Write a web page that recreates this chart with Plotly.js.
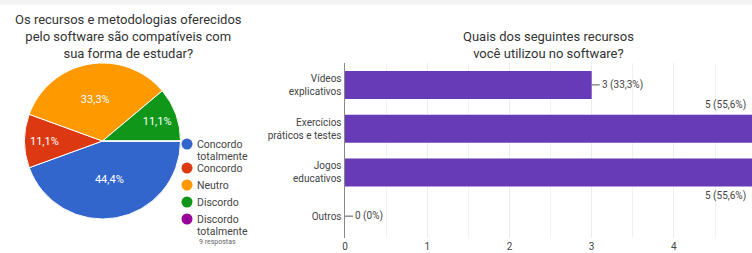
<!DOCTYPE html>
<html>
<head>
<meta charset="utf-8">
<script src="https://cdn.plot.ly/plotly-3.0.1.min.js"></script>
<style>html,body{margin:0;padding:0;background:#fff;}#chart{width:752px;height:253px;}</style>
</head>
<body>
<div id="chart"></div>
<script>
// ---- Pie data ----
const pieLabels = ["Concordo totalmente", "Concordo", "Neutro", "Discordo", "Discordo totalmente"];
const pieLegendLines = [["Concordo", "totalmente"], ["Concordo"], ["Neutro"], ["Discordo"], ["Discordo", "totalmente"]];
const pieValues = [4, 1, 3, 1, 0];
const pieColors = ["#3366cc", "#dc3912", "#ff9900", "#109618", "#990099"];
const responsesNote = "9 respostas";

// ---- Bar data ----
const barCategories = ["Vídeos<br>explicativos", "Exercícios<br>práticos e testes", "Jogos<br>educativos", "Outros"];
const barValues = [3, 5, 5, 0];
const barLabels = ["3 (33,3%)", "5 (55,6%)", "5 (55,6%)", "0 (0%)"];
const xTickVals = [0, 1, 2, 3, 4];

const fontFam = "Roboto, Arial, sans-serif";
const W = 752, H = 253;
const px = v => v / W;
const py = v => 1 - v / H;

// legend layout (row positions in pixel rows of the hidden legend axis)
const legendRows = [];
const legendLineStep = 12;
{
  let y = 144;
  pieLegendLines.forEach(lines => {
    legendRows.push(y);
    y += lines.length > 1 ? 24 : 17;
  });
}

const traces = [];
traces.push({
  type: "pie",
  labels: pieLabels,
  values: pieValues,
  marker: {colors: pieColors, line: {color: "#ffffff", width: 1}},
  sort: false,
  direction: "clockwise",
  rotation: 90,
  texttemplate: "%{percent:.1%}",
  textposition: "inside",
  insidetextorientation: "horizontal",
  textfont: {family: fontFam, size: 11, color: "#ffffff"},
  domain: {x: [px(24.5), px(180.5)], y: [py(219), py(63)]},
  showlegend: false,
  hoverinfo: "label+percent"
});
// custom legend markers (circles) on a hidden axis pair
traces.push({
  type: "scatter", mode: "markers",
  x: pieLegendLines.map(() => 187), y: legendRows,
  xaxis: "x2", yaxis: "y2",
  marker: {color: pieColors, size: 11, symbol: "circle"},
  showlegend: false, hoverinfo: "skip"
});
traces.push({
  type: "bar",
  orientation: "h",
  y: barCategories,
  x: barValues,
  marker: {color: "#673ab7"},
  showlegend: false,
  hoverinfo: "x+y"
});

const annotations = [
  {text: "Os recursos e metodologias oferecidos<br>pelo software são compatíveis com<br>sua forma de estudar?",
   xref: "paper", yref: "paper", x: px(128), y: py(10), xanchor: "center", yanchor: "top",
   showarrow: false, font: {family: fontFam, size: 13, color: "#333"}, align: "center"},
  {text: "Quais dos seguintes recursos<br>você utilizou no software?",
   xref: "paper", yref: "paper", x: px(548), y: py(27), xanchor: "center", yanchor: "top",
   showarrow: false, font: {family: fontFam, size: 13, color: "#333"}, align: "center"},
  {text: responsesNote, xref: "x2", yref: "y2", x: 217, y: 242, xanchor: "center", yanchor: "middle",
   showarrow: false, borderpad: 0, font: {family: fontFam, size: 7, color: "#666"}}
];
pieLegendLines.forEach((lines, i) => {
  lines.forEach((line, k) => {
    annotations.push({
      text: line, xref: "x2", yref: "y2", x: 196, y: legendRows[i] + k * legendLineStep,
      xanchor: "left", yanchor: "middle", align: "left", showarrow: false, borderpad: 0,
      font: {family: fontFam, size: 10.5, color: "#444"}
    });
  });
});
// bar value labels
[0, 3].forEach(i => {
  annotations.push({
    text: barLabels[i], xref: "x", yref: "y", x: barValues[i], y: barCategories[i],
    showarrow: true, arrowhead: 0, arrowwidth: 1, arrowcolor: "#555",
    ax: 8, ay: 0, xanchor: "left", standoff: 0,
    font: {family: fontFam, size: 10, color: "#444"}
  });
});
annotations.push({
  text: barLabels[1], xref: "x domain", yref: "y", x: 0.99, y: barCategories[1], yshift: 24,
  xanchor: "right", showarrow: false, font: {family: fontFam, size: 10, color: "#444"}
});
annotations.push({
  text: barLabels[2], xref: "x domain", yref: "y", x: 0.99, y: barCategories[2], yshift: -24,
  xanchor: "right", showarrow: false, font: {family: fontFam, size: 10, color: "#444"}
});

const layout = {
  width: W, height: H,
  margin: {l: 0, r: 0, t: 0, b: 0},
  paper_bgcolor: "#ffffff", plot_bgcolor: "#ffffff",
  separators: ",.",
  font: {family: fontFam, size: 10, color: "#444"},
  bargap: 0.36,
  showlegend: false,
  xaxis: {
    domain: [px(345), 1], range: [0, 4.95],
    tickvals: xTickVals, ticks: "", showline: false, zeroline: false,
    ticklabelstandoff: 1,
    showgrid: true, gridcolor: "#ececec", gridwidth: 1,
    minor: {dtick: 0.5, showgrid: true, gridcolor: "#f2f2f2"},
    tickfont: {family: fontFam, size: 10, color: "#444"}, fixedrange: true
  },
  yaxis: {
    domain: [py(238), py(63)], type: "category",
    categoryorder: "array", categoryarray: barCategories,
    range: [3.5, -0.5],
    showline: true, linecolor: "#888", linewidth: 1.5,
    ticks: "", showgrid: false, zeroline: false,
    tickfont: {family: fontFam, size: 10, color: "#444"}, fixedrange: true
  },
  // hidden axes in pixel units over the legend region (x 180..260, y 130..253)
  xaxis2: {domain: [px(180), px(260)], range: [180, 260], visible: false, anchor: "y2", fixedrange: true},
  yaxis2: {domain: [py(253), py(130)], range: [253, 130], visible: false, anchor: "x2", fixedrange: true},
  shapes: [{type: "rect", xref: "paper", yref: "paper", x0: 0, x1: 1, y0: py(5), y1: 1,
            fillcolor: "#f3f3f3", line: {width: 0}, layer: "below"}],
  annotations: annotations
};

Plotly.newPlot("chart", traces, layout, {displayModeBar: false, staticPlot: true});
</script>
</body>
</html>
